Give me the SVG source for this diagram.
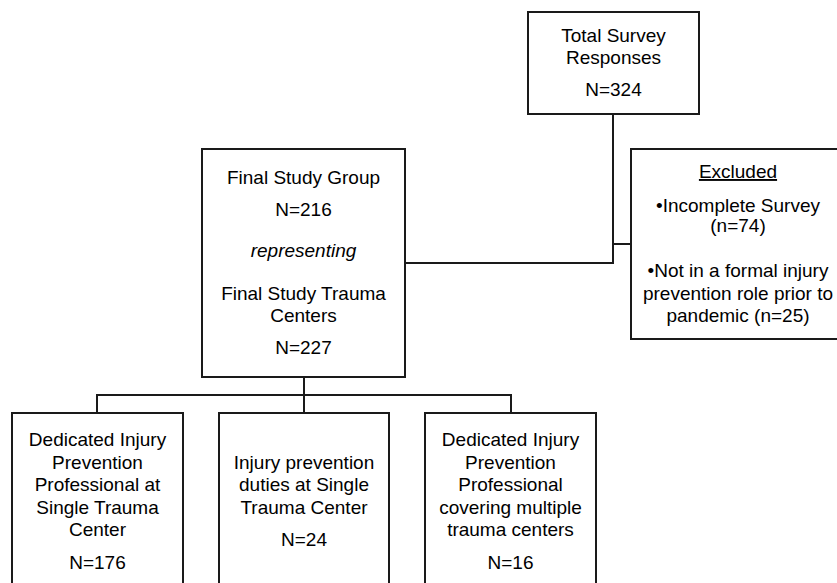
<svg xmlns="http://www.w3.org/2000/svg" width="837" height="583" viewBox="0 0 837 583">
<style>
.box{fill:#fff;stroke:#1a1a1a;stroke-width:2}
.ln{fill:none;stroke:#1a1a1a;stroke-width:2}
text{font-family:"Liberation Sans",Arial,sans-serif;font-size:19px;fill:#000;text-anchor:middle}
</style>
<rect width="837" height="583" fill="#fff"/>
<g id="connectors">
<path class="ln" d="M613,114 V263 H405"/>
<path class="ln" d="M613,244 H631"/>
<path class="ln" d="M304,377 V395"/>
<path class="ln" d="M97,413 V395 H511 V413"/>
<path class="ln" d="M304,395 V413"/>
</g>
<g id="total">
<rect class="box" x="528" y="12" width="171" height="102"/>
<text x="613.5" y="42">Total Survey</text>
<text x="613.5" y="64">Responses</text>
<text x="613.5" y="96">N=324</text>
</g>
<g id="final">
<rect class="box" x="202" y="149" width="203" height="228"/>
<text x="303.5" y="184">Final Study Group</text>
<text x="303.5" y="216">N=216</text>
<text x="303.5" y="257" font-style="italic">representing</text>
<text x="303.5" y="300">Final Study Trauma</text>
<text x="303.5" y="322">Centers</text>
<text x="303.5" y="354">N=227</text>
</g>
<g id="excluded">
<rect class="box" x="631" y="149" width="216" height="190"/>
<text x="738" y="178" text-decoration="underline">Excluded</text>
<text x="738" y="212">•Incomplete Survey</text>
<text x="738" y="232">(n=74)</text>
<text x="738" y="277">•Not in a formal injury</text>
<text x="738" y="300">prevention role prior to</text>
<text x="738" y="322">pandemic (n=25)</text>
</g>
<g id="dedicated-single">
<rect class="box" x="12" y="413" width="171" height="190"/>
<text x="97.5" y="446">Dedicated Injury</text>
<text x="97.5" y="469">Prevention</text>
<text x="97.5" y="491">Professional at</text>
<text x="97.5" y="514">Single Trauma</text>
<text x="97.5" y="536">Center</text>
<text x="97.5" y="569">N=176</text>
</g>
<g id="duties-single">
<rect class="box" x="219" y="413" width="170" height="190"/>
<text x="304" y="469">Injury prevention</text>
<text x="304" y="491">duties at Single</text>
<text x="304" y="514">Trauma Center</text>
<text x="304" y="546">N=24</text>
</g>
<g id="dedicated-multiple">
<rect class="box" x="425" y="413" width="171" height="190"/>
<text x="510.5" y="446">Dedicated Injury</text>
<text x="510.5" y="469">Prevention</text>
<text x="510.5" y="491">Professional</text>
<text x="510.5" y="514">covering multiple</text>
<text x="510.5" y="536">trauma centers</text>
<text x="510.5" y="569">N=16</text>
</g>
</svg>
